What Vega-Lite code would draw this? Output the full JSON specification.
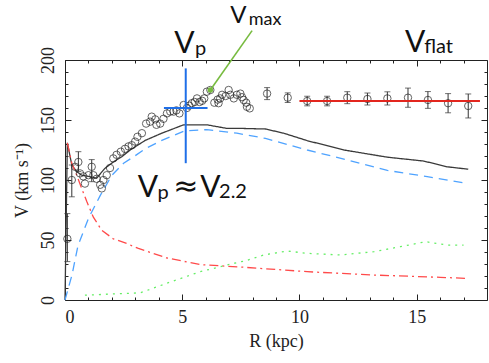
{
  "$schema": "https://vega.github.io/schema/vega-lite/v6.json",
  "width": 422,
  "height": 240,
  "autosize": {"type": "none"},
  "padding": {"left": 65, "top": 60, "right": 2, "bottom": 63},
  "background": "white",
  "config": {
    "view": {"stroke": "#222", "strokeWidth": 1},
    "axis": {"domain": false, "grid": false, "tickColor": "#222", "labelFont": "Liberation Serif, DejaVu Serif, serif", "titleFont": "Liberation Serif, DejaVu Serif, serif", "labelColor": "#222", "titleColor": "#222", "labelFontSize": 18, "titleFontSize": 18, "titleFontWeight": "normal"}
  },
  "datasets": {
    "model": [
      {"comp": "total", "R": 0.0, "V": 0},
      {"comp": "total", "R": 0.1, "V": 131},
      {"comp": "total", "R": 0.29, "V": 112.5},
      {"comp": "total", "R": 0.5, "V": 107},
      {"comp": "total", "R": 0.71, "V": 104},
      {"comp": "total", "R": 1.0, "V": 103},
      {"comp": "total", "R": 1.35, "V": 101.5},
      {"comp": "total", "R": 1.7, "V": 109.7},
      {"comp": "total", "R": 2.06, "V": 115},
      {"comp": "total", "R": 2.42, "V": 119.4},
      {"comp": "total", "R": 2.78, "V": 125},
      {"comp": "total", "R": 3.42, "V": 133},
      {"comp": "total", "R": 4.13, "V": 139},
      {"comp": "total", "R": 5.06, "V": 146},
      {"comp": "total", "R": 6.05, "V": 146},
      {"comp": "total", "R": 6.9, "V": 143},
      {"comp": "total", "R": 7.48, "V": 143},
      {"comp": "total", "R": 8.55, "V": 142.5},
      {"comp": "total", "R": 9.33, "V": 139},
      {"comp": "total", "R": 10.33, "V": 132.8},
      {"comp": "total", "R": 11.9, "V": 125},
      {"comp": "total", "R": 13.75, "V": 119},
      {"comp": "total", "R": 15.3, "V": 115.8},
      {"comp": "total", "R": 16.3, "V": 111},
      {"comp": "total", "R": 17.2, "V": 109},
      {"comp": "disk", "R": 0.0, "V": 0},
      {"comp": "disk", "R": 0.3, "V": 21},
      {"comp": "disk", "R": 0.55, "V": 45},
      {"comp": "disk", "R": 1.0, "V": 68},
      {"comp": "disk", "R": 1.5, "V": 87},
      {"comp": "disk", "R": 2.0, "V": 104},
      {"comp": "disk", "R": 2.5, "V": 114},
      {"comp": "disk", "R": 2.9, "V": 119},
      {"comp": "disk", "R": 3.42, "V": 126},
      {"comp": "disk", "R": 4.13, "V": 133},
      {"comp": "disk", "R": 5.1, "V": 141},
      {"comp": "disk", "R": 6.05, "V": 142},
      {"comp": "disk", "R": 7.33, "V": 139},
      {"comp": "disk", "R": 8.55, "V": 134.7},
      {"comp": "disk", "R": 10.33, "V": 125},
      {"comp": "disk", "R": 12.04, "V": 116.7},
      {"comp": "disk", "R": 13.75, "V": 108},
      {"comp": "disk", "R": 15.45, "V": 102.8},
      {"comp": "disk", "R": 17.2, "V": 97},
      {"comp": "bulge", "R": 0.1, "V": 131},
      {"comp": "bulge", "R": 0.29, "V": 114},
      {"comp": "bulge", "R": 0.5, "V": 104},
      {"comp": "bulge", "R": 0.71, "V": 93},
      {"comp": "bulge", "R": 0.93, "V": 82},
      {"comp": "bulge", "R": 1.21, "V": 69},
      {"comp": "bulge", "R": 1.57, "V": 58},
      {"comp": "bulge", "R": 2.06, "V": 51},
      {"comp": "bulge", "R": 2.64, "V": 47},
      {"comp": "bulge", "R": 3.13, "V": 43},
      {"comp": "bulge", "R": 4.35, "V": 35},
      {"comp": "bulge", "R": 5.77, "V": 29.5},
      {"comp": "bulge", "R": 7.48, "V": 27.5},
      {"comp": "bulge", "R": 10.33, "V": 23.6},
      {"comp": "bulge", "R": 13.18, "V": 20.8},
      {"comp": "bulge", "R": 16.0, "V": 18.9},
      {"comp": "bulge", "R": 17.17, "V": 18},
      {"comp": "gas", "R": 0.85, "V": 4},
      {"comp": "gas", "R": 2.0, "V": 5},
      {"comp": "gas", "R": 3.2, "V": 6},
      {"comp": "gas", "R": 3.5, "V": 8},
      {"comp": "gas", "R": 4.35, "V": 14},
      {"comp": "gas", "R": 5.77, "V": 23.6},
      {"comp": "gas", "R": 7.19, "V": 30.5},
      {"comp": "gas", "R": 7.76, "V": 33},
      {"comp": "gas", "R": 8.47, "V": 37.5},
      {"comp": "gas", "R": 9.47, "V": 40.8},
      {"comp": "gas", "R": 10.33, "V": 38.9},
      {"comp": "gas", "R": 11.75, "V": 37.5},
      {"comp": "gas", "R": 13.18, "V": 40.3},
      {"comp": "gas", "R": 14.3, "V": 44.4},
      {"comp": "gas", "R": 15.38, "V": 48.6},
      {"comp": "gas", "R": 16.3, "V": 45.8},
      {"comp": "gas", "R": 17.0, "V": 45.8}
    ],
    "obs": [
      {"R": 0.1, "V": 51}, {"R": 0.29, "V": 100}, {"R": 0.43, "V": 111}, {"R": 0.57, "V": 115},
      {"R": 0.64, "V": 105.5}, {"R": 0.78, "V": 103}, {"R": 0.85, "V": 97}, {"R": 1.0, "V": 104},
      {"R": 1.14, "V": 111}, {"R": 1.21, "V": 104}, {"R": 1.35, "V": 101}, {"R": 1.5, "V": 96},
      {"R": 1.57, "V": 93}, {"R": 1.64, "V": 100}, {"R": 1.78, "V": 104}, {"R": 1.92, "V": 110},
      {"R": 2.06, "V": 118}, {"R": 2.2, "V": 121}, {"R": 2.38, "V": 123.6}, {"R": 2.56, "V": 126},
      {"R": 2.71, "V": 128}, {"R": 2.85, "V": 129}, {"R": 2.99, "V": 132}, {"R": 3.09, "V": 136},
      {"R": 3.28, "V": 139}, {"R": 3.46, "V": 147}, {"R": 3.63, "V": 148.6}, {"R": 3.7, "V": 152.8},
      {"R": 3.85, "V": 150.5}, {"R": 3.9, "V": 146}, {"R": 4.06, "V": 147}, {"R": 4.2, "V": 151},
      {"R": 4.35, "V": 155.5}, {"R": 4.49, "V": 157}, {"R": 4.63, "V": 157}, {"R": 4.75, "V": 158},
      {"R": 4.88, "V": 155.5}, {"R": 5.06, "V": 162.5}, {"R": 5.2, "V": 160}, {"R": 5.3, "V": 162},
      {"R": 5.41, "V": 164}, {"R": 5.53, "V": 165}, {"R": 5.63, "V": 168}, {"R": 5.74, "V": 165},
      {"R": 5.85, "V": 166}, {"R": 5.94, "V": 168}, {"R": 6.05, "V": 173.6}, {"R": 6.2, "V": 175},
      {"R": 6.37, "V": 164.4}, {"R": 6.51, "V": 167}, {"R": 6.55, "V": 164}, {"R": 6.62, "V": 168},
      {"R": 6.7, "V": 171}, {"R": 6.85, "V": 170}, {"R": 6.98, "V": 175}, {"R": 7.05, "V": 171},
      {"R": 7.2, "V": 168}, {"R": 7.33, "V": 171}, {"R": 7.48, "V": 172}, {"R": 7.55, "V": 169},
      {"R": 7.62, "V": 166.7}, {"R": 7.73, "V": 164.4}, {"R": 7.76, "V": 161}, {"R": 7.88, "V": 159.7},
      {"R": 8.62, "V": 172}, {"R": 9.5, "V": 168.6}, {"R": 10.33, "V": 165.8}, {"R": 11.18, "V": 165.8},
      {"R": 12.04, "V": 168.6}, {"R": 12.9, "V": 167.5}, {"R": 13.75, "V": 168}, {"R": 14.63, "V": 168.6},
      {"R": 15.48, "V": 166.7}, {"R": 16.34, "V": 164}, {"R": 17.2, "V": 161.7}
    ],
    "err": [
      {"R": 0.1, "lo": 32, "hi": 72}, {"R": 0.29, "lo": 86, "hi": 112.5},
      {"R": 0.57, "lo": 107, "hi": 123.6}, {"R": 1.14, "lo": 98.6, "hi": 117},
      {"R": 8.62, "lo": 167, "hi": 177}, {"R": 9.5, "lo": 164.6, "hi": 172.6},
      {"R": 10.33, "lo": 161.8, "hi": 169.8}, {"R": 11.18, "lo": 161.8, "hi": 169.8},
      {"R": 12.04, "lo": 163.6, "hi": 173.6}, {"R": 12.9, "lo": 162.5, "hi": 172.5},
      {"R": 13.75, "lo": 162.5, "hi": 173.5}, {"R": 14.63, "lo": 160.6, "hi": 176.6},
      {"R": 15.48, "lo": 159.7, "hi": 173.7}, {"R": 16.34, "lo": 156, "hi": 172},
      {"R": 17.2, "lo": 151.7, "hi": 171.7}
    ],
    "flat": [{"R": 10.0, "R2": 17.7, "V": 165.8}],
    "cross": [
      {"R": 5.15, "R2": 5.15, "V": 114, "V2": 193},
      {"R": 4.22, "R2": 6.08, "V": 160, "V2": 160}
    ],
    "arrow": [{"R": 7.98, "V": 224.5, "R2": 6.2, "V2": 175}],
    "arrowhead": [{"R": 6.2, "V": 175}],
    "big": [
      {"R": 4.66, "V": 206, "t": "V"},
      {"R": 14.5, "V": 206.5, "t": "V"},
      {"R": 3.1, "V": 86, "t": "V"},
      {"R": 5.77, "V": 86, "t": "V"}
    ],
    "mid": [
      {"R": 7.05, "V": 230.5, "t": "V"}
    ],
    "approx": [
      {"R": 4.62, "V": 87, "t": "≈"}
    ],
    "small": [
      {"R": 5.55, "V": 204.5, "t": "p"},
      {"R": 15.32, "V": 205.5, "t": "flat"},
      {"R": 3.95, "V": 84.5, "t": "p"},
      {"R": 6.57, "V": 85, "t": "2.2"}
    ],
    "smallmax": [
      {"R": 7.84, "V": 229.2, "t": "max"}
    ]
  },
  "resolve": {"axis": {"x": "independent", "y": "independent"}},
  "layer": [
    {
      "data": {"name": "model"},
      "mark": {"type": "line", "strokeWidth": 1.3},
      "encoding": {
        "x": {"field": "R", "type": "quantitative", "scale": {"domain": [0, 18], "nice": false, "zero": false},
              "axis": {"orient": "bottom", "values": [0, 5, 10, 15], "title": "R (kpc)", "tickSize": -6, "labelPadding": 14, "titlePadding": 6, "labelFont": "Liberation Serif", "titleFont": "Liberation Serif"}},
        "y": {"field": "V", "type": "quantitative", "scale": {"domain": [0, 200], "nice": false},
              "axis": {"orient": "left", "values": [0, 50, 100, 150, 200], "title": "V (km s⁻¹)", "tickSize": -6, "labelAngle": 270, "labelAlign": "center", "labelBaseline": "alphabetic", "labelPadding": 18, "titlePadding": 8, "labelFont": "Liberation Serif", "titleFont": "Liberation Serif"}},
        "color": {"field": "comp", "type": "nominal", "legend": null,
                  "scale": {"domain": ["total", "disk", "bulge", "gas"], "range": ["#3a3a3a", "#4fa3ff", "#ff4a4a", "#66ee66"]}},
        "strokeDash": {"field": "comp", "type": "nominal", "legend": null,
                  "scale": {"domain": ["total", "disk", "bulge", "gas"], "range": [[1, 0], [9, 6], [9, 4, 2, 4], [2, 5]]}},
        "detail": {"field": "comp"}
      }
    },
    {
      "data": {"name": "err"},
      "mark": {"type": "rule", "color": "#333", "strokeWidth": 1},
      "encoding": {
        "x": {"field": "R", "type": "quantitative",
              "axis": {"orient": "top", "values": [0, 5, 10, 15], "labels": false, "title": null, "tickSize": -6}},
        "y": {"field": "lo", "type": "quantitative",
              "axis": {"orient": "right", "values": [0, 50, 100, 150, 200], "labels": false, "title": null, "tickSize": -6}},
        "y2": {"field": "hi"}
      }
    },
    {
      "data": {"name": "err"},
      "mark": {"type": "tick", "orient": "horizontal", "color": "#333", "size": 6, "thickness": 1},
      "encoding": {
        "x": {"field": "R", "type": "quantitative",
              "axis": {"orient": "bottom", "values": [1,2,3,4,6,7,8,9,11,12,13,14,16,17], "labels": false, "title": null, "tickSize": -3}},
        "y": {"field": "lo", "type": "quantitative",
              "axis": {"orient": "left", "values": [10,20,30,40,60,70,80,90,110,120,130,140,160,170,180,190], "labels": false, "title": null, "tickSize": -3}}
      }
    },
    {
      "data": {"name": "err"},
      "mark": {"type": "tick", "orient": "horizontal", "color": "#333", "size": 6, "thickness": 1},
      "encoding": {
        "x": {"field": "R", "type": "quantitative",
              "axis": {"orient": "top", "values": [1,2,3,4,6,7,8,9,11,12,13,14,16,17], "labels": false, "title": null, "tickSize": -3}},
        "y": {"field": "hi", "type": "quantitative",
              "axis": {"orient": "right", "values": [10,20,30,40,60,70,80,90,110,120,130,140,160,170,180,190], "labels": false, "title": null, "tickSize": -3}}
      }
    },
    {
      "data": {"name": "obs"},
      "mark": {"type": "point", "shape": "circle", "filled": false, "color": "#222", "size": 55, "strokeWidth": 1},
      "encoding": {
        "x": {"field": "R", "type": "quantitative", "axis": null},
        "y": {"field": "V", "type": "quantitative", "axis": null}
      }
    },
    {
      "data": {"name": "flat"},
      "mark": {"type": "rule", "color": "#e3261e", "strokeWidth": 2},
      "encoding": {
        "x": {"field": "R", "type": "quantitative", "axis": null},
        "x2": {"field": "R2"},
        "y": {"field": "V", "type": "quantitative", "axis": null}
      }
    },
    {
      "data": {"name": "cross"},
      "mark": {"type": "rule", "color": "#1f6fe8", "strokeWidth": 2},
      "encoding": {
        "x": {"field": "R", "type": "quantitative", "axis": null},
        "x2": {"field": "R2"},
        "y": {"field": "V", "type": "quantitative", "axis": null},
        "y2": {"field": "V2"}
      }
    },
    {
      "data": {"name": "arrow"},
      "mark": {"type": "rule", "color": "#77bb3f", "strokeWidth": 1.6, "clip": false},
      "encoding": {
        "x": {"field": "R", "type": "quantitative", "axis": null},
        "x2": {"field": "R2"},
        "y": {"field": "V", "type": "quantitative", "axis": null},
        "y2": {"field": "V2"}
      }
    },
    {
      "data": {"name": "arrowhead"},
      "mark": {"type": "point", "shape": "circle", "filled": true, "color": "#77bb3f", "size": 30, "opacity": 1},
      "encoding": {
        "x": {"field": "R", "type": "quantitative", "axis": null},
        "y": {"field": "V", "type": "quantitative", "axis": null}
      }
    },
    {
      "data": {"name": "big"},
      "mark": {"type": "text", "font": "Lato", "fontSize": 30, "align": "left", "baseline": "alphabetic", "color": "#111", "clip": false},
      "encoding": {
        "x": {"field": "R", "type": "quantitative", "axis": null},
        "y": {"field": "V", "type": "quantitative", "axis": null},
        "text": {"field": "t"}
      }
    },
    {
      "data": {"name": "mid"},
      "mark": {"type": "text", "font": "Lato", "fontSize": 24, "align": "left", "baseline": "alphabetic", "color": "#111", "clip": false},
      "encoding": {
        "x": {"field": "R", "type": "quantitative", "axis": null},
        "y": {"field": "V", "type": "quantitative", "axis": null},
        "text": {"field": "t"}
      }
    },
    {
      "data": {"name": "approx"},
      "mark": {"type": "text", "font": "DejaVu Sans", "fontSize": 30, "align": "left", "baseline": "alphabetic", "color": "#111", "clip": false},
      "encoding": {
        "x": {"field": "R", "type": "quantitative", "axis": null},
        "y": {"field": "V", "type": "quantitative", "axis": null},
        "text": {"field": "t"}
      }
    },
    {
      "data": {"name": "small"},
      "mark": {"type": "text", "font": "Lato", "fontSize": 20, "align": "left", "baseline": "alphabetic", "color": "#111", "clip": false},
      "encoding": {
        "x": {"field": "R", "type": "quantitative", "axis": null},
        "y": {"field": "V", "type": "quantitative", "axis": null},
        "text": {"field": "t"}
      }
    },
    {
      "data": {"name": "smallmax"},
      "mark": {"type": "text", "font": "Lato", "fontSize": 18, "align": "left", "baseline": "alphabetic", "color": "#111", "clip": false},
      "encoding": {
        "x": {"field": "R", "type": "quantitative", "axis": null},
        "y": {"field": "V", "type": "quantitative", "axis": null},
        "text": {"field": "t"}
      }
    }
  ]
}
